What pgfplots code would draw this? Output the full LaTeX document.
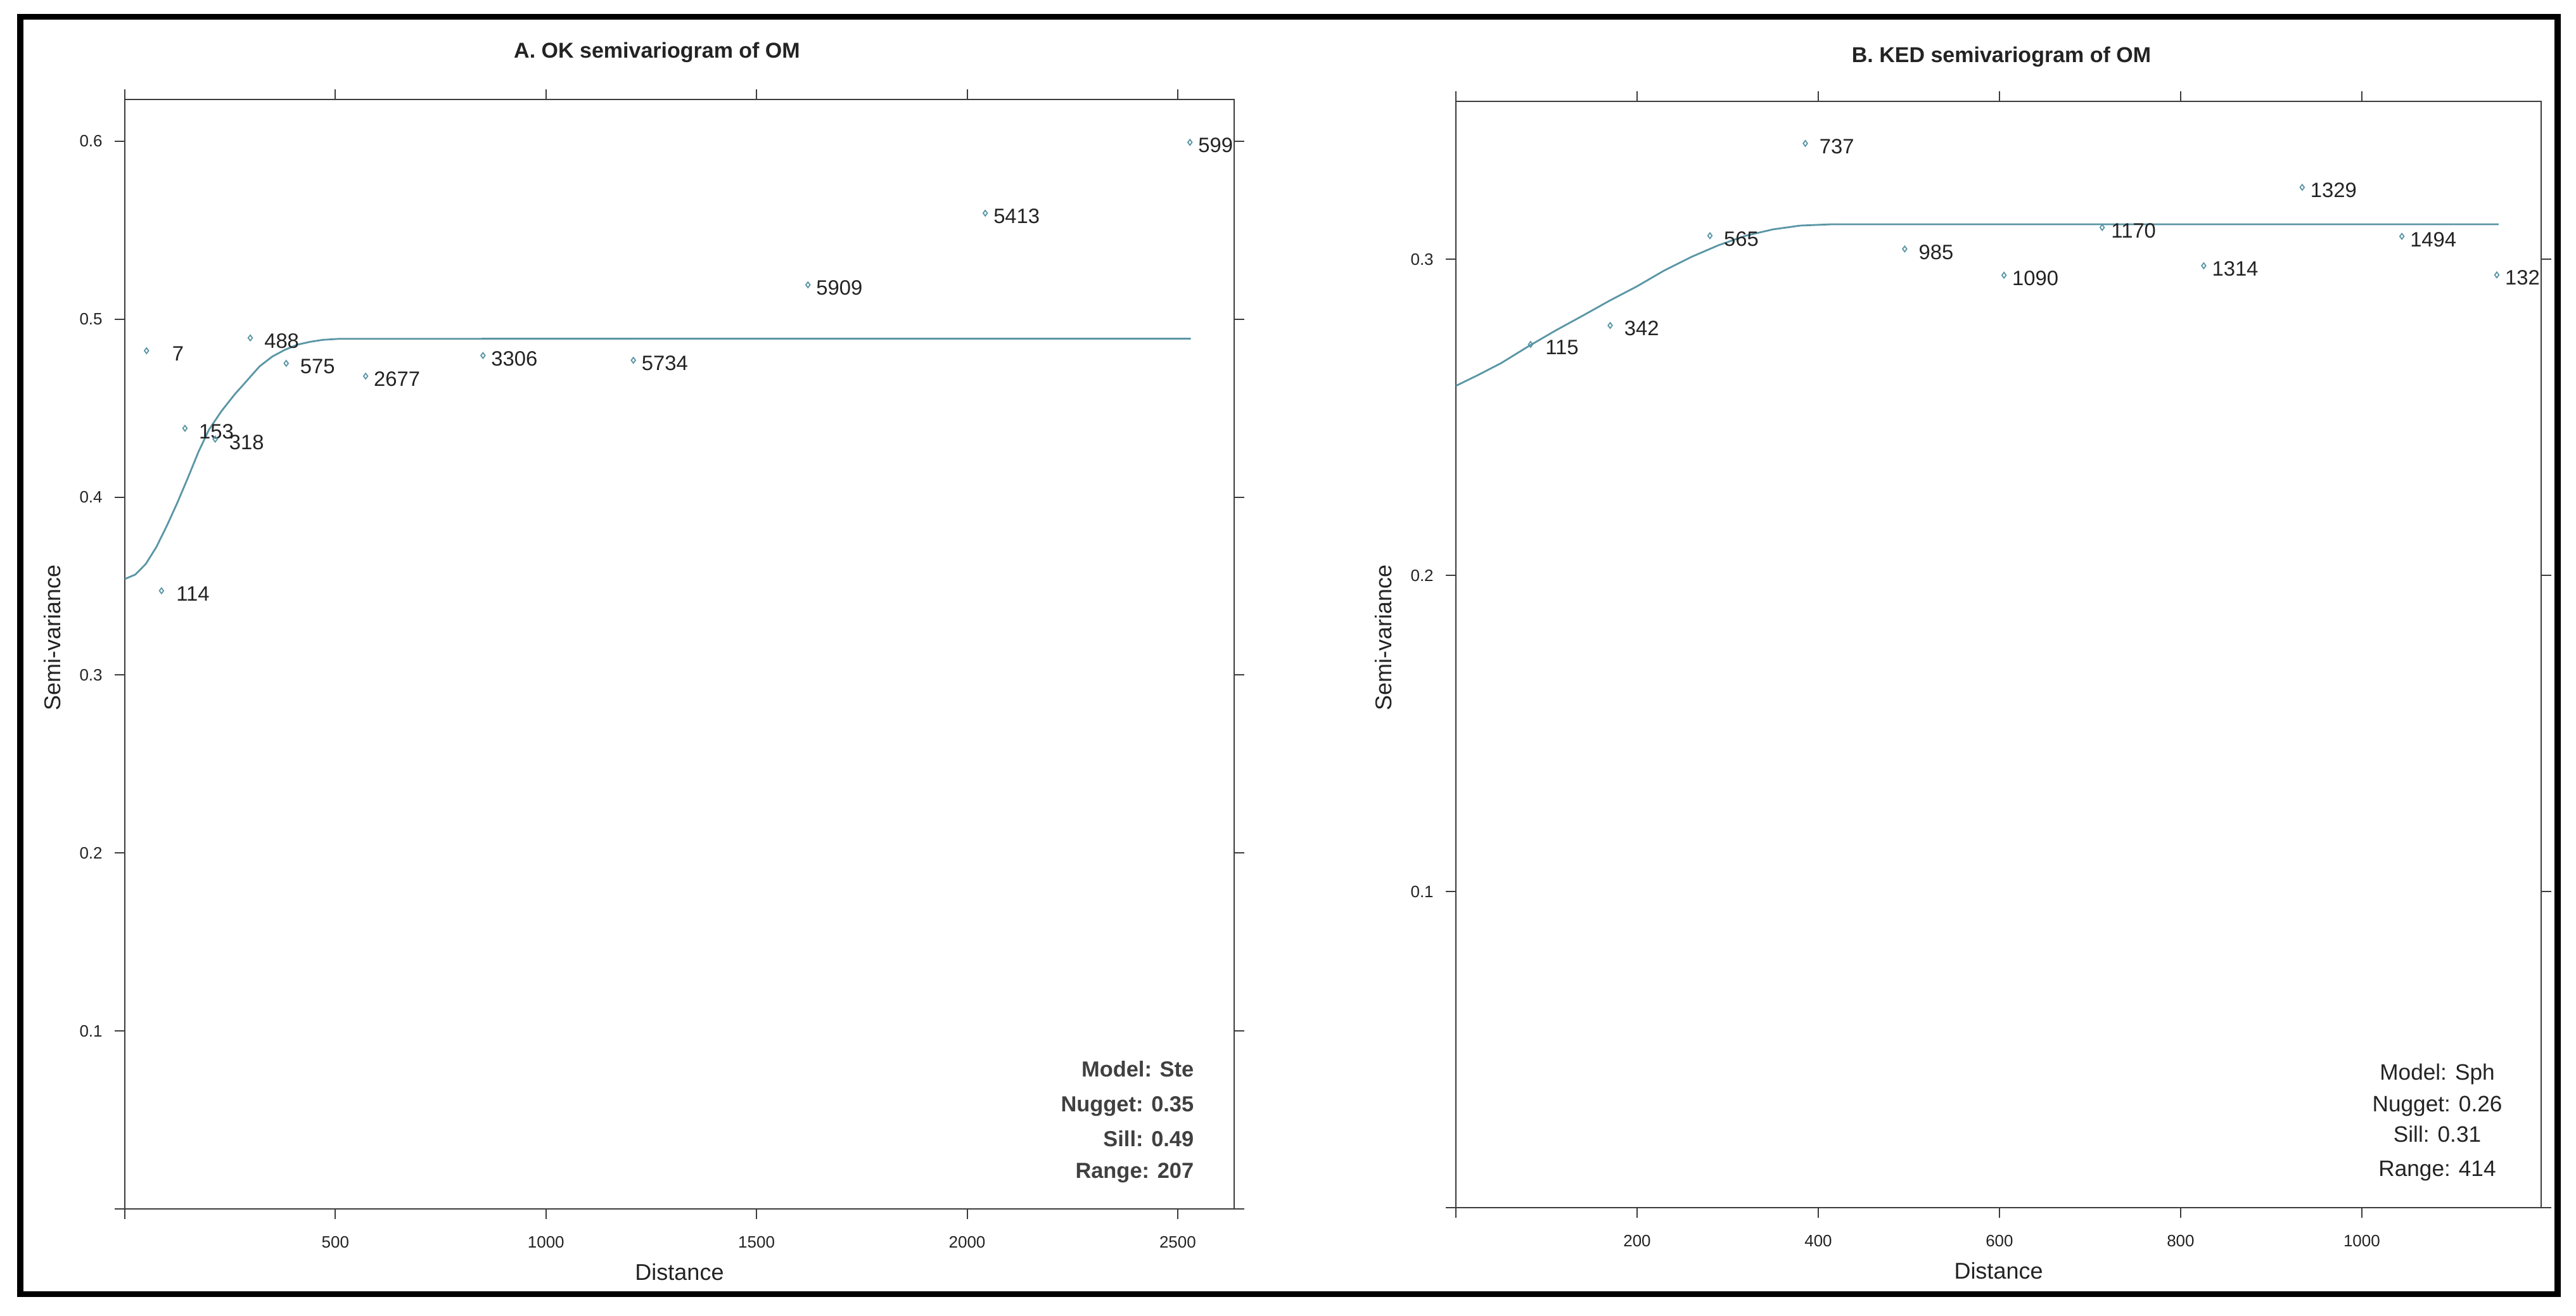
\documentclass[border=0pt]{standalone}
\usepackage{fontspec}
\setmainfont{Liberation Sans}
\usepackage{pgfplots}
\pgfplotsset{compat=1.18}
\definecolor{semcol}{RGB}{90,150,165}
\definecolor{axcol}{RGB}{60,60,60}
\definecolor{txtcol}{RGB}{35,35,35}

\pgfplotsset{
  semstyle/.style={
    scale only axis,
    axis line style={draw=axcol, line width=0.6pt},
    every tick/.style={draw=axcol, line width=0.5pt},
    tick align=outside,
    major tick length=4pt,
    tick label style={font=\fontsize{6.5}{7.5}\selectfont, text=txtcol},
    xticklabel style={yshift=-3.3pt},
    yticklabel style={xshift=-1.3pt},
    /pgf/number format/assume math mode=true,
    xlabel={Distance},
    ylabel={Semi-variance},
    every axis x label/.style={at={([yshift=-28pt]axis description cs:0.5,0)}, anchor=base, font=\fontsize{9}{10}\selectfont, text=txtcol},
    every axis y label/.style={at={([xshift=-28.5pt]axis description cs:0,0.515)}, rotate=90, anchor=center, font=\fontsize{9}{10}\selectfont, text=txtcol},
  },
  curvestyle/.style={semcol, line width=0.7pt, no marks},
  ptstyle/.style={semcol, only marks, mark=diamond, mark size=1.1pt,
    mark options={draw=semcol, line width=0.45pt},
    nodes near coords, point meta=explicit symbolic,
    every node near coord/.append style={anchor=center, xshift=12.4pt, yshift=-1.2pt,
      text=txtcol, font=\fontsize{8.2}{9}\selectfont}},
}

\begin{document}
\begin{tikzpicture}
\useasboundingbox (0pt,0pt) rectangle (1016.5pt,519pt);

% ---------------- Panel A ----------------
\begin{axis}[semstyle,
  at={(49.25pt,42pt)}, anchor=south west,
  width=437.75pt, height=437.75pt,
  xmin=0, xmax=2634, ymin=0, ymax=0.6235,
  xtick={0,500,1000,1500,2000,2500},
  xticklabels={,500,1000,1500,2000,2500},
  ytick={0,0.1,0.2,0.3,0.4,0.5,0.6},
  yticklabels={,0.1,0.2,0.3,0.4,0.5,0.6}]
\addplot[curvestyle] coordinates {
  (0,0.354) (25,0.3565) (50,0.3625) (75,0.372) (100,0.384) (125,0.397)
  (150,0.411) (175,0.4255) (200,0.438) (230,0.4485) (260,0.4575)
  (290,0.4655) (320,0.4735) (350,0.479) (380,0.4828) (410,0.4857)
  (440,0.4873) (470,0.4884) (510,0.4890) (2531,0.4891)
};
\addplot[ptstyle] coordinates {
  (51.6,0.4823) [7]
  (87.1,0.3474) [114]
  (142.8,0.4387) [153]
  (214.6,0.4326) [318]
  (297.9,0.4895) [488]
  (383.2,0.4752) [575]
  (571.8,0.4680) [2677]
  (850.4,0.4796) [3306]
  (1207.5,0.4769) [5734]
  (1622,0.5193) [5909]
  (2043,0.5596) [5413]
  (2529,0.5994) [599\phantom{9}]
};
\end{axis}

% ---------------- Panel B ----------------
\begin{axis}[semstyle,
  at={(574.5pt,42.5pt)}, anchor=south west,
  width=428.25pt, height=436.5pt,
  xmin=0, xmax=1198, ymin=0, ymax=0.35,
  xtick={0,200,400,600,800,1000},
  xticklabels={,200,400,600,800,1000},
  ytick={0,0.1,0.2,0.3},
  yticklabels={,0.1,0.2,0.3}]
\addplot[curvestyle] coordinates {
  (0,0.2600) (25,0.2635) (50,0.2672) (80,0.2725) (110,0.2775) (140,0.2822)
  (170,0.2870) (200,0.2915) (230,0.2965) (260,0.3008) (290,0.3045)
  (320,0.3075) (350,0.3095) (380,0.3107) (414,0.3111) (1151,0.3111)
};
\addplot[ptstyle] coordinates {
  (82.4,0.2731) [115]
  (170.3,0.2791) [342]
  (280.4,0.3075) [565]
  (385.7,0.3367) [737]
  (495.4,0.3033) [985]
  (605,0.2950) [1090]
  (713.4,0.3101) [1170]
  (825.5,0.2980) [1314]
  (934.2,0.3228) [1329]
  (1044.2,0.3073) [1494]
  (1149,0.2951) [132\phantom{9}]
};
\end{axis}

% titles
\node[anchor=base, font=\bfseries\fontsize{8.5}{10}\selectfont, text=txtcol] at (259.25pt,496pt) {A. OK semivariogram of OM};
\node[anchor=base, font=\bfseries\fontsize{8.5}{10}\selectfont, text=txtcol] at (789.75pt,494.25pt) {B. KED semivariogram of OM};

% model summaries
\begin{scope}[every node/.style={font=\bfseries\fontsize{8.6}{10}\selectfont, text=black!75, anchor=base east, inner sep=0pt}]
\node at (471.25pt,94pt) {Model: Ste};
\node at (471.25pt,80.25pt) {Nugget: 0.35};
\node at (471.25pt,66.5pt) {Sill: 0.49};
\node at (471.25pt,54pt) {Range: 207};
\end{scope}
\begin{scope}[every node/.style={font=\fontsize{8.8}{10}\selectfont, text=txtcol, anchor=base, inner sep=0pt}]
\node at (961.75pt,92.75pt) {Model: Sph};
\node at (961.75pt,80.25pt) {Nugget: 0.26};
\node at (961.75pt,68.25pt) {Sill: 0.31};
\node at (961.75pt,54.75pt) {Range: 414};
\end{scope}

% outer frame
\draw[line width=2.3pt, black] (8pt,8.4pt) rectangle (1009.25pt,512.3pt);
\end{tikzpicture}
\end{document}
